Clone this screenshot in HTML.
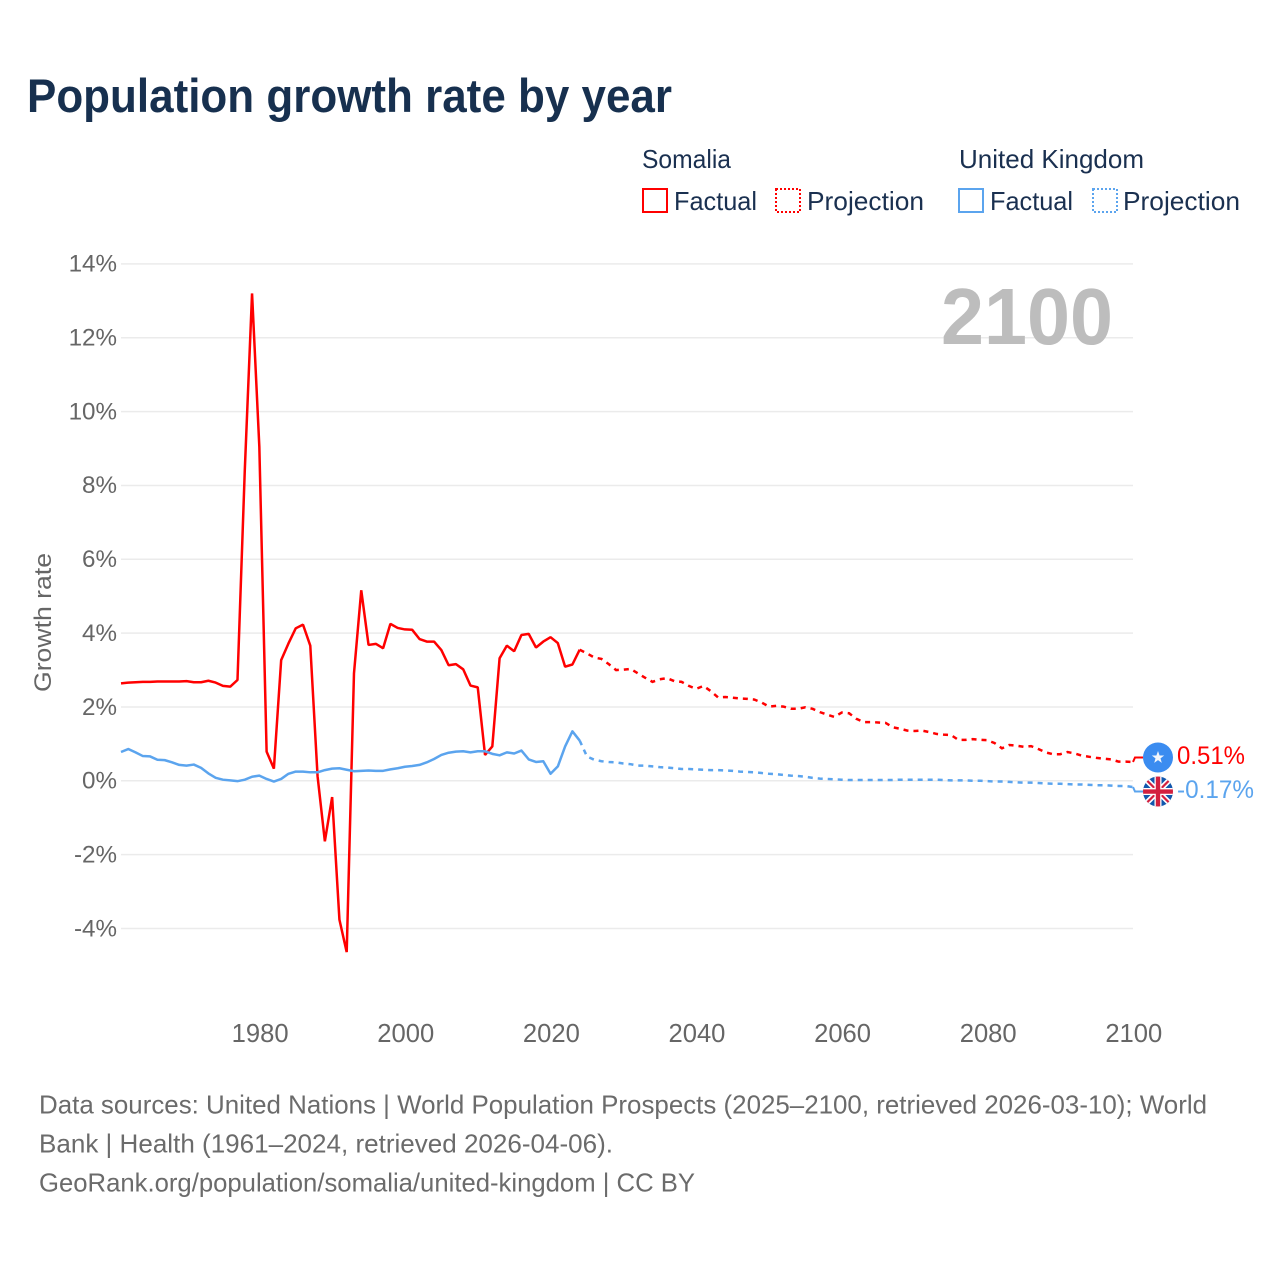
<!DOCTYPE html>
<html lang="en">
<head>
<meta charset="utf-8">
<title>Population growth rate by year</title>
<style>
html,body{margin:0;padding:0;background:#fff;width:1280px;height:1280px;overflow:hidden}
svg{display:block;font-family:"Liberation Sans",Arial,sans-serif}
.tick{font-size:24.2px;fill:#666}
.leg{font-size:26px;fill:#1a3050}
.foot{font-size:26px;fill:#6b6b6b}
</style>
</head>
<body>
<svg id="chart" width="1280" height="1280" viewBox="0 0 1280 1280" xmlns="http://www.w3.org/2000/svg">
  <defs>
    <clipPath id="flag-clip"><circle cx="0" cy="0" r="15"></circle></clipPath>
  </defs>
  <rect width="1280" height="1280" fill="#fff"></rect>
  <text x="27" y="112" font-size="47" font-weight="700" fill="#17304f" textLength="645" lengthAdjust="spacingAndGlyphs">Population growth rate by year</text>

  <g>
    <text class="leg" x="642" y="168" textLength="89" lengthAdjust="spacingAndGlyphs">Somalia</text>
    <text class="leg" x="959" y="168" textLength="185" lengthAdjust="spacingAndGlyphs">United Kingdom</text>
    <rect x="643" y="189" width="24" height="23" fill="none" stroke="#ff0000" stroke-width="2"></rect>
    <text class="leg" x="674" y="210" textLength="83" lengthAdjust="spacingAndGlyphs">Factual</text>
    <rect x="776" y="189" width="24" height="23" fill="none" stroke="#ff0000" stroke-width="2" stroke-dasharray="2 2"></rect>
    <text class="leg" x="807" y="210" textLength="117" lengthAdjust="spacingAndGlyphs">Projection</text>
    <rect x="959" y="189" width="24" height="23" fill="none" stroke="#5ba4ee" stroke-width="2"></rect>
    <text class="leg" x="990" y="210" textLength="83" lengthAdjust="spacingAndGlyphs">Factual</text>
    <rect x="1093" y="189" width="24" height="23" fill="none" stroke="#5ba4ee" stroke-width="2" stroke-dasharray="2 2"></rect>
    <text class="leg" x="1123" y="210" textLength="117" lengthAdjust="spacingAndGlyphs">Projection</text>
  </g>

  <g id="grid"></g>
  <g id="yticks"></g>
  <g id="xticks"></g>
  <text class="tick" transform="translate(51,622.5) rotate(-90)" text-anchor="middle" textLength="139" lengthAdjust="spacingAndGlyphs">Growth rate</text>
  <text x="941" y="344" font-size="80" font-weight="700" fill="#bdbdbd" textLength="172" lengthAdjust="spacingAndGlyphs">2100</text>
  <g id="series"></g>

  <g id="somalia-marker">
    <circle r="15" fill="#3b8cf0"></circle>
    <polygon points="0,-6.5 1.6,-2 6.2,-2 2.5,0.8 3.8,5.3 0,2.6 -3.8,5.3 -2.5,0.8 -6.2,-2 -1.6,-2" fill="#f2f6fb"></polygon>
  </g>
  <g id="uk-marker">
    <g clip-path="url(#flag-clip)">
      <rect x="-15" y="-15" width="30" height="30" fill="#1257ad"></rect>
      <path d="M-15,-15L15,15M15,-15L-15,15" stroke="#fff" stroke-width="5.5"></path>
      <path d="M-15,-15L15,15M15,-15L-15,15" stroke="#d3203f" stroke-width="2.2"></path>
      <path d="M0,-15V15M-15,0H15" stroke="#fff" stroke-width="7"></path>
      <path d="M0,-15V15M-15,0H15" stroke="#d3203f" stroke-width="4.4"></path>
    </g>
  </g>
  <text id="somalia-end-label" x="1177" font-size="25" fill="#ff0000" textLength="68" lengthAdjust="spacingAndGlyphs"></text>
  <text id="uk-end-label" x="1177" font-size="25" fill="#5ba4ee" textLength="77" lengthAdjust="spacingAndGlyphs"></text>

  <g>
    <text class="foot" x="39" y="1113.5" textLength="1168" lengthAdjust="spacingAndGlyphs">Data sources: United Nations | World Population Prospects (2025–2100, retrieved 2026-03-10); World</text>
    <text class="foot" x="39" y="1152.5" textLength="574" lengthAdjust="spacingAndGlyphs">Bank | Health (1961–2024, retrieved 2026-04-06).</text>
    <text class="foot" x="39" y="1191.5" textLength="656" lengthAdjust="spacingAndGlyphs">GeoRank.org/population/somalia/united-kingdom | CC BY</text>
  </g>
</svg>
<script>
const yTickValues = [14, 12, 10, 8, 6, 4, 2, 0, -2, -4];
const xTickYears = [1980, 2000, 2020, 2040, 2060, 2080, 2100];
const factualStartYear = 1961;
const projectionStartYear = 2024;

const somaliaFactual = [2.64,2.66,2.67,2.68,2.68,2.69,2.69,2.69,2.69,2.70,2.67,2.67,2.71,2.66,2.57,2.55,2.73,8.4,13.2,9.05,0.79,0.33,3.27,3.72,4.13,4.23,3.66,0.12,-1.64,-0.44,-3.76,-4.64,2.91,5.16,3.68,3.71,3.59,4.25,4.14,4.10,4.09,3.84,3.77,3.77,3.54,3.13,3.16,3.02,2.58,2.53,0.70,0.93,3.32,3.66,3.51,3.95,3.98,3.61,3.77,3.89,3.73,3.09,3.15,3.55];
const somaliaProjection = [3.55,3.45,3.34,3.30,3.16,3.00,3.01,3.03,2.91,2.79,2.68,2.75,2.78,2.70,2.68,2.57,2.49,2.57,2.43,2.26,2.27,2.25,2.23,2.22,2.20,2.12,2.01,2.03,2.01,1.95,1.95,1.99,1.95,1.86,1.79,1.73,1.85,1.83,1.68,1.59,1.59,1.58,1.57,1.45,1.41,1.36,1.35,1.36,1.32,1.27,1.25,1.24,1.11,1.11,1.13,1.11,1.10,1.02,0.88,0.97,0.95,0.92,0.94,0.86,0.77,0.72,0.72,0.78,0.74,0.68,0.65,0.62,0.60,0.58,0.52,0.52,0.51];
const ukFactual = [0.78,0.86,0.77,0.67,0.66,0.57,0.56,0.50,0.43,0.41,0.44,0.35,0.20,0.08,0.03,0.01,-0.01,0.03,0.11,0.14,0.05,-0.02,0.05,0.19,0.25,0.25,0.23,0.23,0.29,0.33,0.34,0.30,0.26,0.27,0.28,0.27,0.27,0.31,0.34,0.38,0.40,0.43,0.50,0.59,0.70,0.76,0.79,0.80,0.77,0.80,0.80,0.73,0.69,0.77,0.74,0.82,0.58,0.51,0.53,0.19,0.39,0.93,1.34,1.09];
const ukProjection = [1.09,0.66,0.57,0.53,0.51,0.50,0.47,0.45,0.41,0.41,0.39,0.37,0.36,0.34,0.32,0.32,0.31,0.30,0.29,0.29,0.28,0.27,0.25,0.24,0.23,0.21,0.19,0.18,0.16,0.14,0.13,0.11,0.08,0.06,0.05,0.04,0.03,0.02,0.02,0.02,0.02,0.02,0.02,0.02,0.03,0.03,0.03,0.03,0.03,0.03,0.02,0.01,0.01,0.01,0.00,0.00,-0.01,-0.02,-0.02,-0.03,-0.04,-0.05,-0.05,-0.06,-0.07,-0.08,-0.08,-0.09,-0.10,-0.10,-0.11,-0.12,-0.12,-0.13,-0.14,-0.14,-0.17];

const NS = 'http://www.w3.org/2000/svg';
const RED = '#ff0000';
const BLUE = '#5ba4ee';
function xScale(year) { return 121 + (year - 1961) * (1133 - 121) / (2100 - 1961); }
function yScale(value) { return 780.8 - value * 36.92; }
function make(tag, parent, attrs) {
  const el = document.createElementNS(NS, tag);
  for (const key in attrs) el.setAttribute(key, attrs[key]);
  parent.appendChild(el);
  return el;
}
function pathFor(startYear, values) {
  return values.map(function (v, i) {
    return (i ? 'L' : 'M') + xScale(startYear + i).toFixed(2) + ',' + yScale(v).toFixed(2);
  }).join('');
}

const gridGroup = document.getElementById('grid');
const yTickGroup = document.getElementById('yticks');
const xTickGroup = document.getElementById('xticks');
const seriesGroup = document.getElementById('series');

yTickValues.forEach(function (v) {
  const line = make('line', gridGroup, { x1: 121, x2: 1133, y1: yScale(v), y2: yScale(v), stroke: '#ebebeb', 'stroke-width': 1.5 });
  
  
  const label = make('text', yTickGroup, { x: 117, y: yScale(v) + 7.8, 'text-anchor': 'end', class: 'tick' });
  
  
  label.textContent = v + '%';
});

xTickYears.forEach(function (year) {
  const label = make('text', xTickGroup, { x: xScale(year) + 0.8, y: 1042, 'text-anchor': 'middle', class: 'tick', style: 'font-size:25.6px' });
  
  
  label.textContent = year;
});

const somaliaFactualLine = make('path', seriesGroup, { d: pathFor(factualStartYear, somaliaFactual), fill: 'none', stroke: RED, 'stroke-width': 2.5, 'stroke-linejoin': 'bevel' });



const ukFactualLine = make('path', seriesGroup, { d: pathFor(factualStartYear, ukFactual), fill: 'none', stroke: BLUE, 'stroke-width': 2.5, 'stroke-linejoin': 'round' });



const somaliaProjectionLine = make('path', seriesGroup, { d: pathFor(projectionStartYear, somaliaProjection), fill: 'none', stroke: RED, 'stroke-width': 2.5, 'stroke-dasharray': '5 5' });



const ukProjectionLine = make('path', seriesGroup, { d: pathFor(projectionStartYear, ukProjection), fill: 'none', stroke: BLUE, 'stroke-width': 2.5, 'stroke-dasharray': '5 5' });



const somaliaEnd = somaliaProjection[somaliaProjection.length - 1];
const ukEnd = ukProjection[ukProjection.length - 1];
const midY = (yScale(somaliaEnd) + yScale(ukEnd)) / 2;
const somaliaMarkerY = Math.min(yScale(somaliaEnd), midY - 17);
const ukMarkerY = Math.max(yScale(ukEnd), midY + 17);

const somaliaConnector = make('path', seriesGroup, { d: 'M1133,' + yScale(somaliaEnd) + 'L1135,' + somaliaMarkerY + 'H1143', fill: 'none', stroke: RED, 'stroke-width': 2 });



const ukConnector = make('path', seriesGroup, { d: 'M1133,' + yScale(ukEnd) + 'L1135,' + ukMarkerY + 'H1143', fill: 'none', stroke: BLUE, 'stroke-width': 2 });



document.getElementById('somalia-marker').setAttribute('transform', 'translate(1158,' + somaliaMarkerY + ')');
document.getElementById('uk-marker').setAttribute('transform', 'translate(1158,' + ukMarkerY + ')');

const somaliaLabel = document.getElementById('somalia-end-label');
somaliaLabel.setAttribute('y', somaliaMarkerY + 6.5);
somaliaLabel.textContent = somaliaEnd.toFixed(2) + '%';
const ukLabel = document.getElementById('uk-end-label');
ukLabel.setAttribute('y', ukMarkerY + 6.5);
ukLabel.textContent = ukEnd.toFixed(2) + '%';
</script>
</body>
</html>
